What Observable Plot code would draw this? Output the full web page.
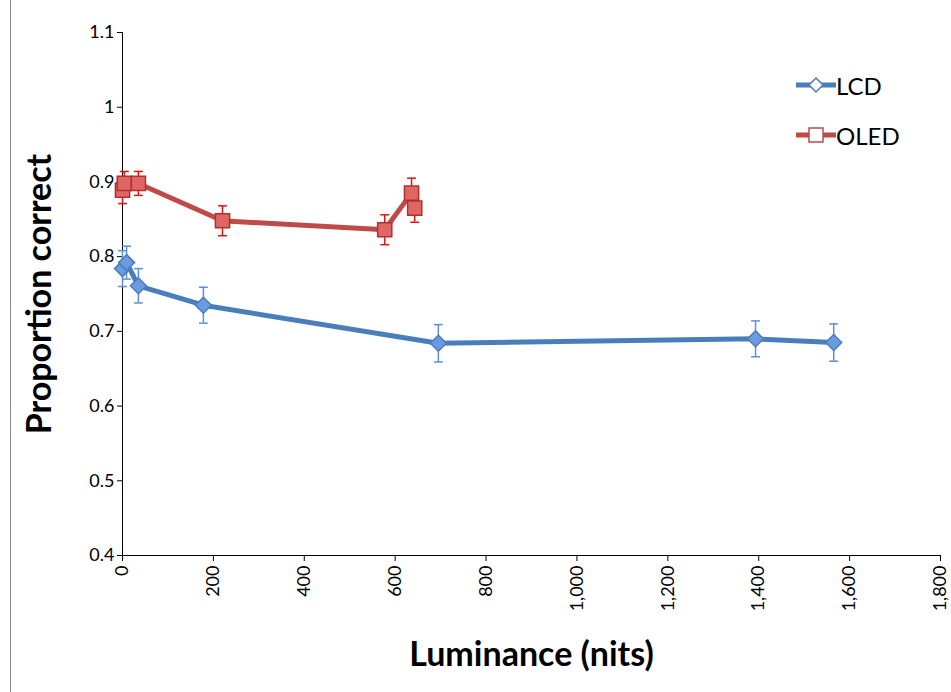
<!DOCTYPE html>
<html><head><meta charset="utf-8">
<script src="https://cdn.jsdelivr.net/npm/d3@7"></script>
<script src="https://cdn.jsdelivr.net/npm/@observablehq/plot@0.6"></script>
<style>
body{margin:0;background:#fff;font-family:Lato,"Open Sans",sans-serif}
#wrap{position:relative;width:951px;height:692px}
#frame{position:absolute;left:10px;top:-2px;width:960px;height:700px;border:1px solid #888}
#legend{position:absolute;left:796px;top:60px;font-size:24px}
#legend div{display:flex;align-items:center;height:50px}
</style></head><body>
<div id="wrap"><div id="frame"></div><div id="chart"></div>
<div id="legend">
<div><svg width="40" height="20"><line x1="0" x2="40" y1="10" y2="10" stroke="#4a7ebb" stroke-width="5"/><path d="M20,3L27,10L20,17L13,10Z" fill="#fff" stroke="#4a7ebb" stroke-width="1.5"/></svg>LCD</div>
<div><svg width="40" height="20"><line x1="0" x2="40" y1="10" y2="10" stroke="#be4b48" stroke-width="5"/><rect x="13" y="3" width="14" height="14" fill="#fff" stroke="#be4b48" stroke-width="1.5"/></svg>OLED</div>
</div></div>
<script>
const lcdX = [0, 9, 35, 178, 695, 1393, 1565]
const lcdY = [0.784, 0.792, 0.761, 0.735, 0.684, 0.690, 0.685]
const lcdErr = [0.024, 0.022, 0.023, 0.024, 0.025, 0.024, 0.025]
const oledX = [0, 4, 35, 220, 577, 636, 643]
const oledY = [0.889, 0.898, 0.898, 0.848, 0.836, 0.885, 0.865]
const oledErr = [0.018, 0.016, 0.016, 0.020, 0.020, 0.020, 0.019]

const rows = (xs, ys, es) => xs.map((x, i) => ({x, y: ys[i], lo: ys[i] - es[i], hi: ys[i] + es[i]}))
const lcd = rows(lcdX, lcdY, lcdErr)
const oled = rows(oledX, oledY, oledErr)

const cap = {draw(ctx, size) { const r = Math.sqrt(size) / 2; ctx.moveTo(-r, 0); ctx.lineTo(r, 0) }}
const rhomb = {draw(ctx, size) { const r = Math.sqrt(size) / 2; ctx.moveTo(0, -r); ctx.lineTo(r, 0); ctx.lineTo(0, r); ctx.lineTo(-r, 0); ctx.closePath() }}

function errs(data, c) {
  return [
    Plot.ruleX(data, {x: 'x', y1: 'lo', y2: 'hi', stroke: c, strokeWidth: 1.5}),
    Plot.dot(data, {x: 'x', y: 'lo', symbol: cap, r: 5, stroke: c, strokeWidth: 1.5}),
    Plot.dot(data, {x: 'x', y: 'hi', symbol: cap, r: 5, stroke: c, strokeWidth: 1.5})
  ]
}

let chart = Plot.plot({
  width: 951,
  height: 692,
  marginLeft: 122,
  marginRight: 11,
  marginTop: 32,
  marginBottom: 137,
  style: {fontFamily: 'Lato, "Open Sans", sans-serif', fontSize: '18px', color: '#000'},
  x: {domain: [0, 1800]},
  y: {domain: [0.4, 1.1]},
  marks: [
    Plot.ruleX([0], {stroke: '#000'}),
    Plot.ruleY([0.4], {stroke: '#000'}),
    Plot.axisY({ticks: d3.range(0.4, 1.15, 0.1), tickFormat: d => String(+d.toFixed(1)), tickSize: 5, tickPadding: 3, label: null}),
    Plot.axisX({ticks: d3.range(0, 1801, 200), tickFormat: d3.format(','), tickSize: 6, tickRotate: -90, tickPadding: 4, label: null}),
    ...errs(lcd, '#5b8fd6'),
    ...errs(oled, '#e3120b'),
    Plot.line(lcd, {x: 'x', y: 'y', stroke: '#4a7ebb', strokeWidth: 5}),
    Plot.dot(lcd, {x: 'x', y: 'y', symbol: rhomb, r: 9, fill: '#6a9be0', stroke: '#4a7ebb'}),
    Plot.line(oled, {x: 'x', y: 'y', stroke: '#be4b48', strokeWidth: 5}),
    Plot.dot(oled, {x: 'x', y: 'y', symbol: 'square', r: 8, fill: '#e06663', stroke: '#a33'}),
    Plot.text(['Proportion correct'], {frameAnchor: 'left', textAnchor: 'middle', dx: -82, rotate: -90, fontSize: 34, fontWeight: 'bold'}),
    Plot.text(['Luminance (nits)'], {frameAnchor: 'bottom', dy: 110, fontSize: 34, fontWeight: 'bold'})
  ]
})
d3.select('#chart').append(() => chart)
</script></body></html>
